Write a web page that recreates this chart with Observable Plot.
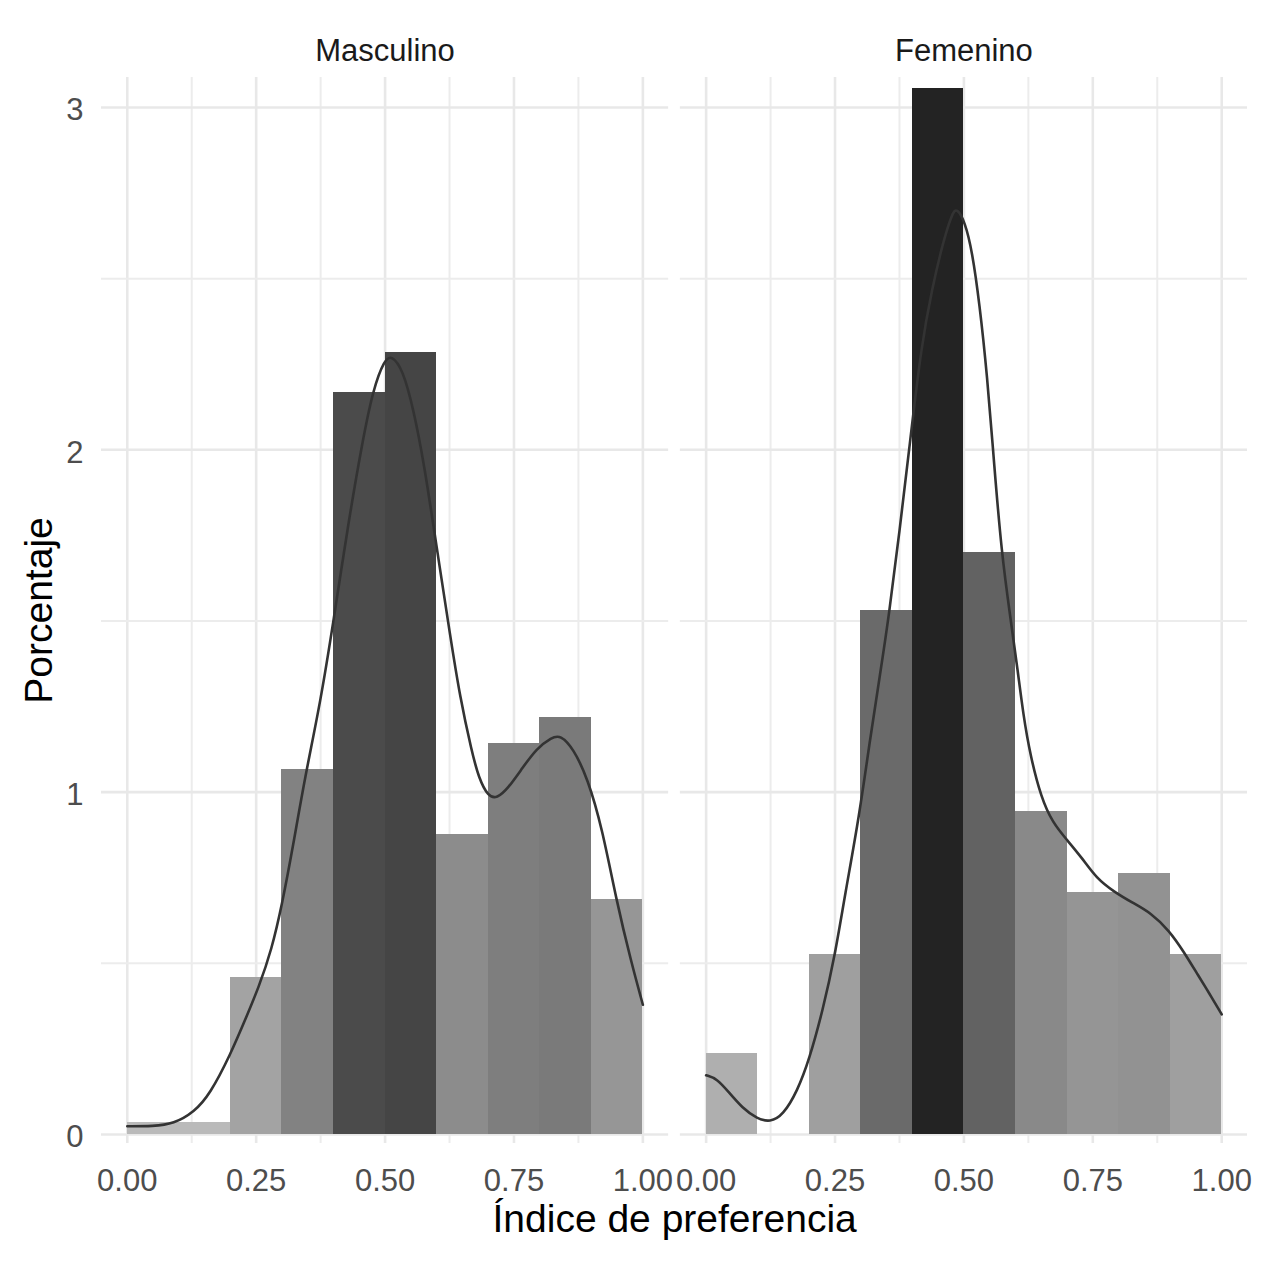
<!DOCTYPE html>
<html>
<head>
<meta charset="utf-8">
<script src="https://cdn.jsdelivr.net/npm/d3@7"></script>
<script src="https://cdn.jsdelivr.net/npm/@observablehq/plot@0.6"></script>
<style>
  html, body { margin: 0; padding: 0; background: #ffffff; }
  #chart svg { display: block; }
</style>
</head>
<body>
<div id="chart"></div>
<script>
// ---- data ----
const categories = ["Masculino", "Femenino"];
const binStarts = [0, 0.1, 0.2, 0.3, 0.4, 0.5, 0.6, 0.7, 0.8, 0.9];
const binEnds   = [0.1, 0.2, 0.3, 0.4, 0.5, 0.6, 0.7, 0.8, 0.9, 1.0];
const masculinoBars = [0.035, 0.035, 0.459, 1.065, 2.168, 2.284, 0.875, 1.143, 1.218, 0.687];
const femeninoBars  = [0.237, 0, 0.527, 1.53, 3.055, 1.70, 0.943, 0.706, 0.763, 0.527];

const masculinoDensityX = [0, 0.05, 0.09, 0.13, 0.16, 0.2, 0.23, 0.255, 0.28, 0.3, 0.322, 0.344, 0.375, 0.4, 0.428, 0.456, 0.477, 0.499, 0.513, 0.534, 0.555, 0.576, 0.6, 0.627, 0.645, 0.668, 0.682, 0.7, 0.717, 0.738, 0.766, 0.794, 0.823, 0.84, 0.865, 0.893, 0.921, 0.949, 0.977, 1.0];
const masculinoDensityY = [0.024, 0.024, 0.031, 0.066, 0.117, 0.233, 0.34, 0.43, 0.54, 0.67, 0.846, 1.04, 1.265, 1.5, 1.78, 2.024, 2.178, 2.264, 2.276, 2.236, 2.12, 1.957, 1.716, 1.45, 1.28, 1.119, 1.04, 0.987, 0.982, 1.01, 1.07, 1.128, 1.16, 1.167, 1.128, 1.04, 0.895, 0.681, 0.506, 0.379];

const femeninoDensityX = [0, 0.021, 0.042, 0.071, 0.099, 0.124, 0.149, 0.177, 0.2, 0.226, 0.25, 0.269, 0.297, 0.318, 0.339, 0.354, 0.375, 0.396, 0.417, 0.438, 0.46, 0.477, 0.486, 0.502, 0.516, 0.53, 0.545, 0.559, 0.573, 0.59, 0.604, 0.615, 0.629, 0.65, 0.672, 0.7, 0.728, 0.757, 0.792, 0.827, 0.863, 0.898, 0.926, 0.955, 0.976, 1.0];
const femeninoDensityY = [0.173, 0.163, 0.127, 0.076, 0.046, 0.036, 0.056, 0.127, 0.219, 0.361, 0.524, 0.698, 0.93, 1.156, 1.36, 1.51, 1.76, 2.03, 2.3, 2.47, 2.61, 2.69, 2.708, 2.666, 2.58, 2.43, 2.22, 1.95, 1.70, 1.51, 1.36, 1.227, 1.105, 0.983, 0.911, 0.86, 0.81, 0.748, 0.708, 0.677, 0.647, 0.596, 0.535, 0.463, 0.412, 0.351];

const xTicks = [0, 0.25, 0.5, 0.75, 1];
const xMinorTicks = [0.125, 0.375, 0.625, 0.875];
const yTicks = [0, 1, 2, 3];
const yMinorTicks = [0.5, 1.5, 2.5];
const xTitle = "Índice de preferencia";
const yTitle = "Porcentaje";

// ---- tables built from the arrays ----
const barValues = {Masculino: masculinoBars, Femenino: femeninoBars};
const bars = [];
for (const c of categories) {
  barValues[c].forEach((v, i) => {
    if (v > 0) bars.push({sexo: c, x1: binStarts[i], x2: binEnds[i], value: v});
  });
}
const density = [];
masculinoDensityX.forEach((x, i) => density.push({sexo: "Masculino", x, y: masculinoDensityY[i]}));
femeninoDensityX.forEach((x, i) => density.push({sexo: "Femenino", x, y: femeninoDensityY[i]}));

const chart = Plot.plot({
  width: 1271,
  height: 1262,
  marginTop: 77,
  marginBottom: 119,
  marginLeft: 101,
  marginRight: 24,
  style: {fontFamily: "'Liberation Sans', Arial, sans-serif", background: "#ffffff", overflow: "visible"},
  fx: {domain: categories, paddingInner: 0.0202, paddingOuter: 0, round: false, label: null},
  x: {domain: [-0.05, 1.05], label: null},
  y: {domain: [-0.0263, 3.0876], label: null},
  color: {type: "linear", domain: [0, 3.055], range: ["#bcbcbc", "#232323"], interpolate: "lab"},
  marks: [
    Plot.gridX({ticks: xMinorTicks, stroke: "#ececec", strokeOpacity: 1, strokeWidth: 2}),
    Plot.gridX({ticks: xTicks, stroke: "#e8e8e8", strokeOpacity: 1, strokeWidth: 2.6}),
    Plot.gridY({ticks: yMinorTicks, stroke: "#ececec", strokeOpacity: 1, strokeWidth: 2}),
    Plot.gridY({ticks: yTicks, stroke: "#e8e8e8", strokeOpacity: 1, strokeWidth: 2.6}),
    Plot.rectY(bars, {fx: "sexo", x1: "x1", x2: "x2", y1: 0, y2: "value", fill: "value", shapeRendering: "crispEdges"}),
    Plot.line(density, {fx: "sexo", x: "x", y: "y", stroke: "#333333", strokeWidth: 2.6, curve: "basis"}),
    Plot.axisFx({anchor: "top", tickSize: 0, tickPadding: 17, fontSize: 31, label: null, color: "#1a1a1a"}),
    Plot.axisX({ticks: xTicks, tickFormat: d3.format(".2f"), tickSize: 0, tickPadding: 25, fontSize: 31, color: "#4d4d4d", label: null}),
    Plot.axisY({ticks: yTicks, tickFormat: d3.format("d"), tickSize: 0, tickPadding: 18, fontSize: 31, color: "#4d4d4d", label: null, dy: 3}),
    Plot.text([yTitle], {text: d => d, fx: ["Masculino"], frameAnchor: "left", dx: -50, rotate: -90, lineAnchor: "bottom", textAnchor: "middle", fontSize: 39, fill: "#000000"}),
    Plot.text([xTitle], {text: d => d, fx: ["Masculino"], frameAnchor: "bottom-right", dx: 6, dy: 88, lineAnchor: "bottom", textAnchor: "middle", fontSize: 39, fill: "#000000"})
  ]
});
document.getElementById("chart").appendChild(chart);
</script>
</body>
</html>
